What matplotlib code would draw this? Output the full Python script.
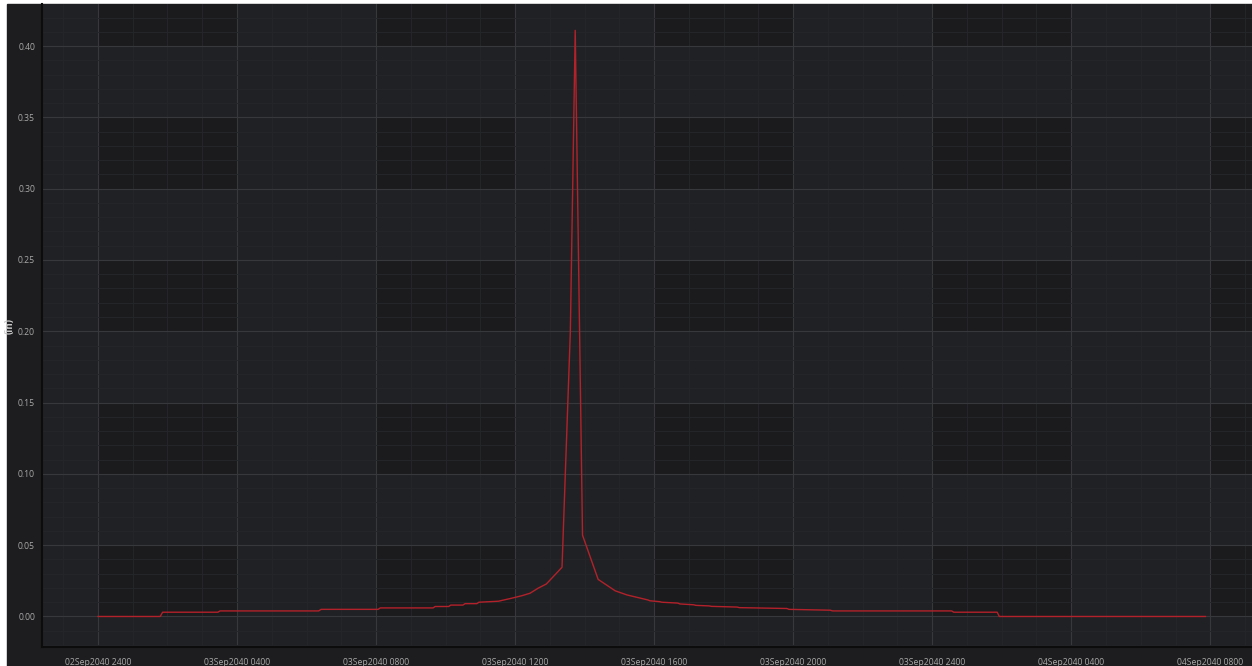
import numpy as np
import matplotlib
matplotlib.use("Agg")
import matplotlib.pyplot as plt
from matplotlib.patches import Rectangle
from matplotlib.ticker import MultipleLocator

# hours after 02Sep2040 2400
hours = [0.0, 1.79, 1.86, 3.45, 3.51, 6.35, 6.42, 8.06, 8.12, 9.64, 9.70,
         10.09, 10.15, 10.50, 10.56, 10.90, 10.96, 11.52, 11.90, 12.20,
         12.43, 12.66, 12.90, 13.35, 13.59, 13.73, 13.94, 14.39, 14.88,
         15.22, 15.82, 15.88, 16.16, 16.22, 16.68, 16.74, 17.14, 17.20,
         17.59, 17.65, 18.39, 18.45, 19.82, 19.88, 21.07, 21.13, 24.56,
         24.62, 25.87, 25.93, 31.86]
depth = [0.0, 0.0, 0.003, 0.003, 0.0039, 0.0039, 0.005, 0.005, 0.006, 0.006,
         0.007, 0.007, 0.008, 0.008, 0.009, 0.009, 0.010, 0.0107, 0.0128,
         0.0146, 0.0163, 0.0198, 0.0228, 0.0345, 0.20, 0.411, 0.057, 0.026,
         0.018, 0.0151, 0.0116, 0.0110, 0.0104, 0.0100, 0.0094, 0.0088,
         0.0082, 0.0078, 0.0074, 0.0071, 0.0066, 0.0062, 0.0056, 0.0050,
         0.0044, 0.0039, 0.0039, 0.0030, 0.0030, 0.0, 0.0]

x_ticks = [0, 4, 8, 12, 16, 20, 24, 28, 32]
x_tick_labels = ["02Sep2040 2400", "03Sep2040 0400", "03Sep2040 0800",
                 "03Sep2040 1200", "03Sep2040 1600", "03Sep2040 2000",
                 "03Sep2040 2400", "04Sep2040 0400", "04Sep2040 0800"]
y_ticks = [0.0, 0.05, 0.10, 0.15, 0.20, 0.25, 0.30, 0.35, 0.40]

W, H = 1252, 666
fig = plt.figure(figsize=(W / 100, H / 100), dpi=100, facecolor="white")
fig.patches.append(Rectangle((7 / W, 0), 1, (H - 4) / H, transform=fig.transFigure,
                             color="#1d1d1f", zorder=-5))

ax = fig.add_axes([42 / W, (H - 647) / H, (W - 42) / W, (647 - 4) / H])
ax.set_zorder(2)
ax.set_facecolor("#202125")
ax.set_xlim(-1.61, 33.2)
ax.set_ylim(-0.0214, 0.4295)

# checkerboard shading
for xb in range(0, 36, 8):
    for yb in np.arange(0.0, 0.45, 0.1):
        ax.add_patch(Rectangle((xb, yb), 4, 0.05, color="#1b1b1d", zorder=0, lw=0))

ax.xaxis.set_minor_locator(MultipleLocator(1))
ax.yaxis.set_minor_locator(MultipleLocator(0.01))
ax.grid(which="major", color="#37383c", lw=0.8)
ax.grid(which="minor", color="#252629", lw=0.7)
ax.set_axisbelow(True)

ax.plot(hours, depth, color="#b3212a", lw=1.0, zorder=3)

ax.set_xticks(x_ticks)
ax.set_xticklabels(x_tick_labels)
ax.set_yticks(y_ticks)
ax.set_yticklabels([f"{v:.2f}" for v in y_ticks])
ax.tick_params(which="both", length=0, colors="#a9a9a9", labelsize=6.2)
ax.tick_params(axis="x", pad=8)
ax.tick_params(axis="y", pad=5)
for lab in ax.get_xticklabels() + ax.get_yticklabels():
    lab.set_family("Open Sans")

for s in ["top", "right"]:
    ax.spines[s].set_visible(False)
for s in ["left", "bottom"]:
    ax.spines[s].set_color("#0c0c0c")
    ax.spines[s].set_linewidth(1.5)

ax.set_ylabel("(in)", color="#c8c8c8", fontsize=7, fontweight="bold", family="Open Sans")
ax.yaxis.set_label_coords(-0.022, 0.5)

fig.savefig("out.png", dpi=100, facecolor=fig.get_facecolor())
